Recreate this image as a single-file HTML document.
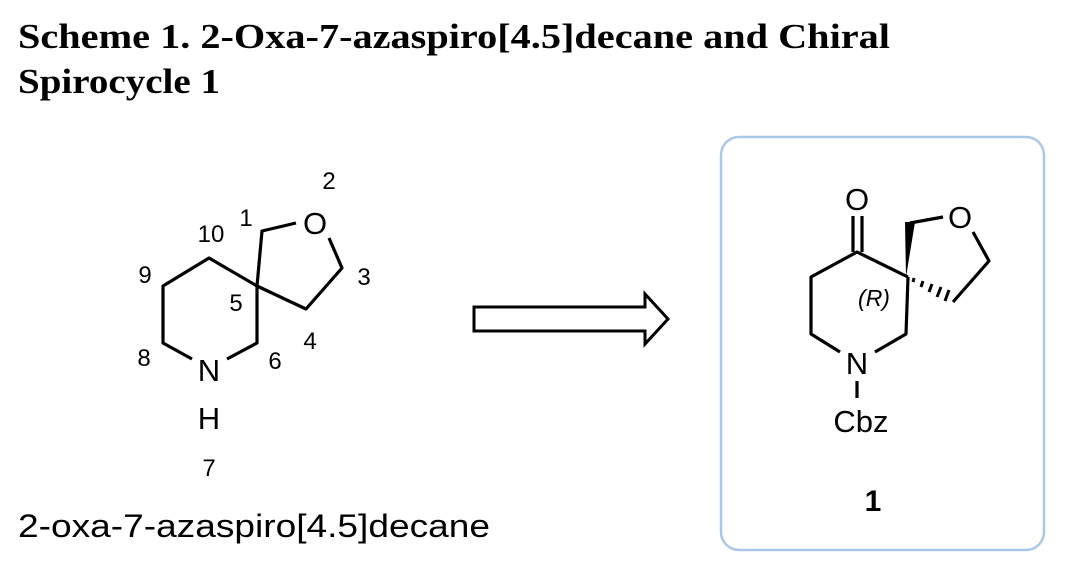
<!DOCTYPE html>
<html><head><meta charset="utf-8"><style>
body{margin:0;background:#fff;width:1069px;height:582px;overflow:hidden}
</style></head><body>
<svg width="1069" height="582" xmlns="http://www.w3.org/2000/svg">
<text x="18" y="48" font-family="Liberation Serif, serif" font-weight="bold" font-size="35" textLength="872" lengthAdjust="spacingAndGlyphs">Scheme 1. 2-Oxa-7-azaspiro[4.5]decane and Chiral</text>
<text x="18" y="93" font-family="Liberation Serif, serif" font-weight="bold" font-size="35" textLength="202" lengthAdjust="spacingAndGlyphs">Spirocycle 1</text>
<g stroke="#000" stroke-width="3.2" fill="none" stroke-linejoin="round">
<polyline points="257,286 209,258 163,286 163,343 192,359"/>
<polyline points="227,359 257,343 257,286 262,231 296,223"/>
<polyline points="329,238 342,268 306,309 257,286"/>
</g>
<g font-family="Liberation Sans, sans-serif" font-size="24" text-anchor="middle">
<text x="315" y="234" font-size="31">O</text>
<text x="209" y="381" font-size="31">N</text>
<text x="209" y="429" font-size="31">H</text>
<text x="329" y="189">2</text>
<text x="246" y="226">1</text>
<text x="211" y="242">10</text>
<text x="145" y="283">9</text>
<text x="364" y="285">3</text>
<text x="236" y="311">5</text>
<text x="310" y="349">4</text>
<text x="144" y="366">8</text>
<text x="275" y="369">6</text>
<text x="209" y="476">7</text>
</g>
<text x="18" y="537" font-family="Liberation Sans, sans-serif" font-size="32" textLength="472" lengthAdjust="spacingAndGlyphs">2-oxa-7-azaspiro[4.5]decane</text>
<polygon points="474,307 645,307 645,294 668,319 645,344 645,331 474,331" fill="#fff" stroke="#000" stroke-width="3"/>
<rect x="721" y="137" width="323" height="413" rx="18" fill="none" stroke="#a9c8e8" stroke-width="2.5"/>
<g stroke="#000" stroke-width="3.2" fill="none" stroke-linejoin="round">
<line x1="853" y1="216" x2="853" y2="252"/>
<line x1="862" y1="216" x2="862" y2="252"/>
<polyline points="908,277 857,252 811,277 811,334 840,352"/>
<polyline points="875,352 906,334 908,277"/>
<polyline points="910,223 943,217"/>
<polyline points="973,232 989,261 953,302"/>
<line x1="857" y1="381" x2="857" y2="398"/>
</g>
<polygon points="906,277 905,222 915,222" fill="#000"/>
<g stroke="#000" stroke-width="3">
<line x1="913" y1="282" x2="914" y2="278"/>
<line x1="921" y1="287" x2="923" y2="281"/>
<line x1="929" y1="292" x2="932" y2="284"/>
<line x1="937" y1="297" x2="941" y2="287"/>
<line x1="945" y1="301" x2="949" y2="290"/>
</g>
<g font-family="Liberation Sans, sans-serif" font-size="31" text-anchor="middle">
<text x="857" y="210">O</text>
<text x="960" y="228">O</text>
<text x="857" y="374">N</text>
<text x="861" y="432">Cbz</text>
<text x="874" y="306" font-size="23" font-style="italic">(R)</text>
<text x="873" y="511" font-weight="bold" font-size="30">1</text>
</g>
</svg>
</body></html>
